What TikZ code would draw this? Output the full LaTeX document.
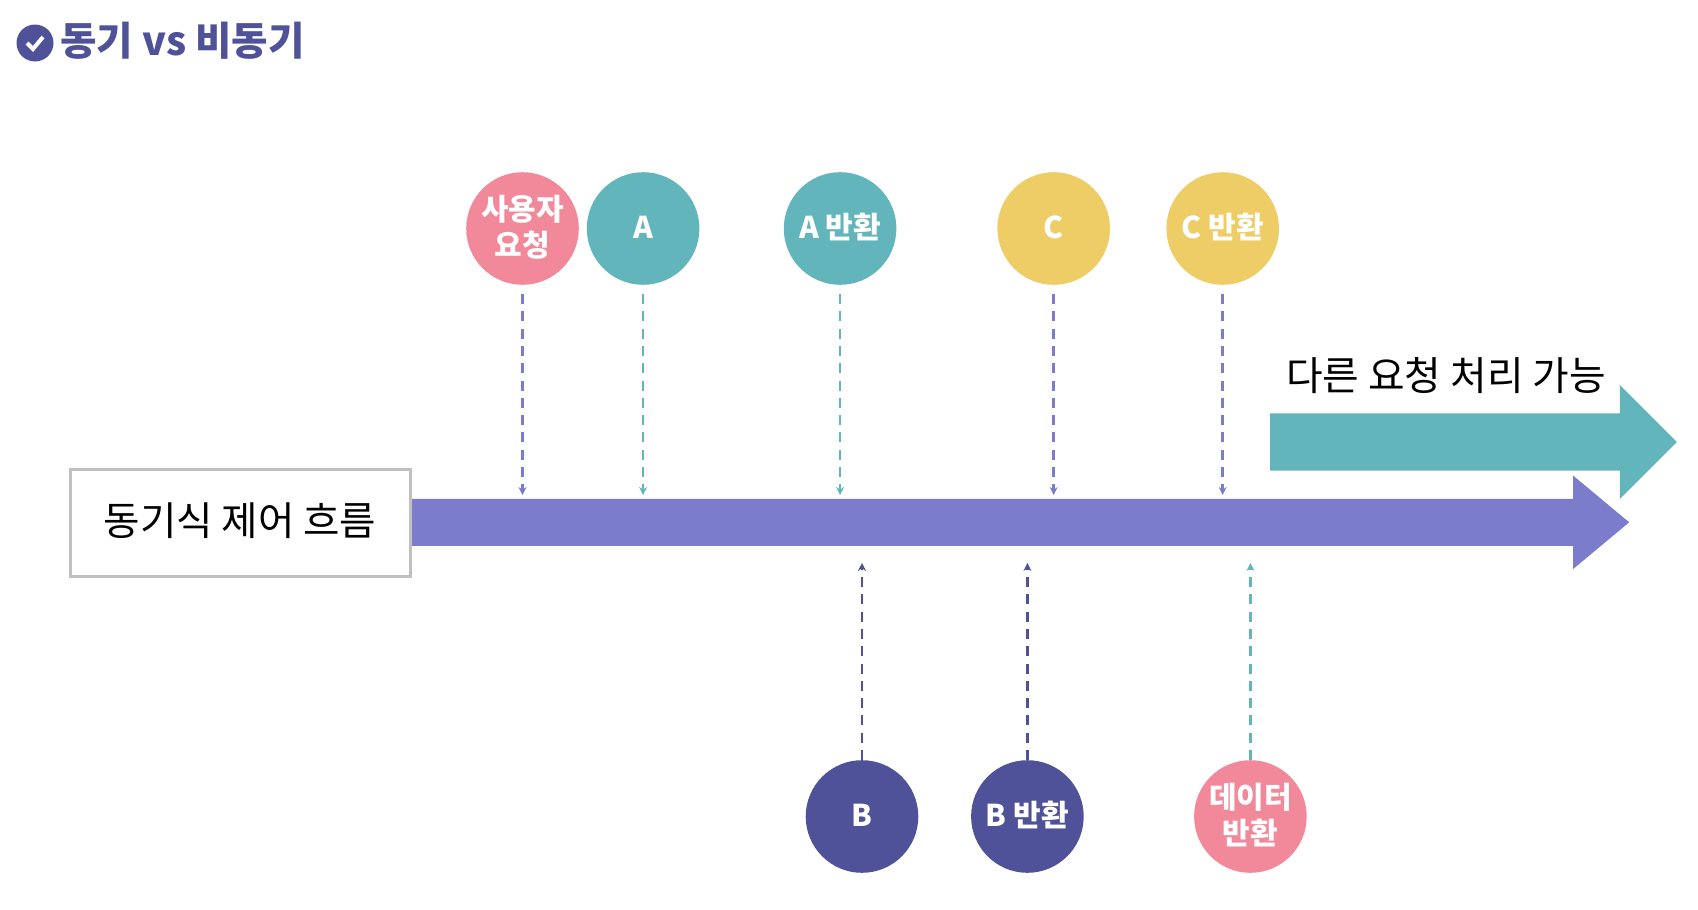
\documentclass[tikz,border=0pt]{standalone}
\usepackage{fontspec}
\setmainfont{Noto Sans CJK KR}
\usepackage{xcolor}
\usepackage{tikz}
\usetikzlibrary{shapes.arrows,arrows.meta,positioning}
\definecolor{navyc}{RGB}{79,81,153}
\definecolor{violetc}{RGB}{123,124,204}
\definecolor{tealc}{RGB}{98,182,187}
\definecolor{pinkc}{RGB}{241,137,154}
\definecolor{yellowc}{RGB}{238,205,102}
\definecolor{framec}{RGB}{192,192,192}
\newcommand{\lift}[1]{\raisebox{-2.6pt}[\height][\depth]{\begin{tabular}{@{}c@{}}#1\end{tabular}}}
\tikzset{
  circ/.style={circle,minimum size=112.6pt,inner sep=0pt,align=center,text=white,
               font=\fontsize{30}{34.5}\selectfont\bfseries},
  framebox/.style={rectangle,draw=framec,line width=3pt,fill=white,minimum width=340pt,
               minimum height=107pt,align=center,font=\fontsize{39.6}{46}\selectfont},
  blockarrow/.style={single arrow,inner xsep=0pt,shape border rotate=0},
  flow/.style={-{Stealth[length=8pt,width=8pt]},line width=2.5pt,dash pattern=on 10pt off 7.3pt},
}
\begin{document}
\begin{tikzpicture}[x=1pt,y=-1pt]
  \useasboundingbox (0,0) rectangle (1698,910);
  % title
  \node[circle,fill=navyc,minimum size=37pt,inner sep=0pt] (check) at (35,43) {};
  \draw[white,line width=4pt] (27,43) -- (33,49) -- (43,37);
  \node[anchor=west,inner sep=0pt,text=navyc,font=\fontsize{39.6}{46}\selectfont\bfseries] (title) at (60,41) {동기 vs 비동기};
  % main arrows
  \node[framebox] (sync) at (240,523) {\lift{동기식 제어 흐름}};
  \node[blockarrow,fill=violetc,anchor=tail,inner ysep=23.3pt,minimum height=1217pt,minimum width=93.3pt,
        single arrow head extend=23.3pt,single arrow tip angle=79.6] (bar) at (412,522.3) {};
  \node[blockarrow,fill=tealc,anchor=tail,inner ysep=28.5pt,minimum height=406.7pt,minimum width=113.7pt,
        single arrow head extend=28.3pt,single arrow tip angle=90] (other) at (1270,442) {};
  \node[inner sep=0pt,font=\fontsize{39.8}{46}\selectfont] (otherlabel) at (1446,376) {다른 요청 처리 가능};
  % upper circles
  \node[circ,fill=pinkc] (user) at (522.5,228.5) {\lift{사용자\\요청}};
  \node[circ,fill=tealc,right=7.6pt of user] (a) {\lift{A}};
  \node[circ,fill=tealc,right=84pt of a] (aret) {\lift{A 반환}};
  \node[circ,fill=yellowc,right=100.6pt of aret] (c) {\lift{C}};
  \node[circ,fill=yellowc,right=56pt of c] (cret) {\lift{C 반환}};
  % lower circles
  \node[circ,fill=navyc] (b) at (862,816.5) {\lift{B}};
  \node[circ,fill=navyc,right=52.4pt of b] (bret) {\lift{B 반환}};
  \node[circ,fill=pinkc,right=110pt of bret] (data) {\lift{데이터\\반환}};
  % connector ends
  \coordinate (topend) at (0,495);
  \coordinate (botend) at (0,563);

  \draw[flow,violetc,shorten <=9pt] (user) -- (user |- topend);
  \draw[flow,tealc,shorten <=9pt] (a) -- (a |- topend);
  \draw[flow,tealc,shorten <=9pt] (aret) -- (aret |- topend);
  \draw[flow,violetc,shorten <=9pt] (c) -- (c |- topend);
  \draw[flow,violetc,shorten <=9pt] (cret) -- (cret |- topend);
  \draw[flow,navyc] (b) -- (b |- botend);
  \draw[flow,navyc] (bret) -- (bret |- botend);
  \draw[flow,tealc] (data) -- (data |- botend);
\end{tikzpicture}
\end{document}
